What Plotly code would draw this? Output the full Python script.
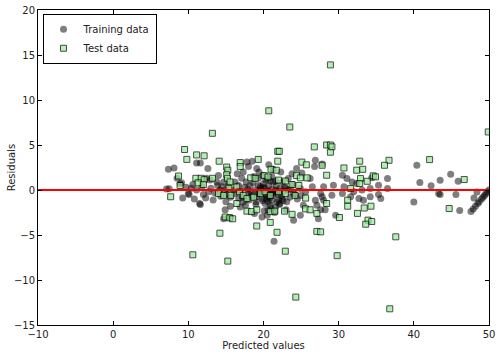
import plotly.graph_objects as go

# Training data (predicted value, residual)
train_x = [7.1, 7.45, 7.35, 8.1, 8.5, 8.9, 9.1, 9.25, 10.0, 10.1, 10.4, 11.1, 11.6, 11.5, 11.6, 11.1, 12.0, 12.6, 12.7, 12.9,
           13.3, 13.8, 13.9, 14.7, 14.45, 14.9, 15.3, 14.2, 15.1, 15.6, 15.0, 15.6, 14.7, 15.6, 14.9,
           9.7, 10.6, 11.8, 12.3, 13.0, 13.5, 14.0, 14.3, 10.8, 12.4,
           17.8, 18.5, 18.0, 17.3, 20.7, 21.3, 19.1, 24.4, 23.8, 25.1, 26.9, 26.8, 18.7, 19.3, 19.9, 20.5, 21.1, 21.3, 22.5, 23.3,
           16.2, 16.7, 17.1, 19.3, 20.0, 20.7, 26.2,
           18.9, 19.6, 20.2, 20.7, 21.1, 21.6, 22.2, 22.7, 23.3,
           19.1, 19.8, 20.5, 21.1, 21.8, 22.5, 20.2, 20.9, 21.6, 22.2,
           16.2, 16.7, 17.3, 18.0, 16.9, 17.6, 19.8, 20.5, 21.4,
           24.0, 24.9, 25.6, 26.5, 24.9, 24.0, 23.1, 26.9, 27.1, 27.3,
           17.5, 18.3, 19.5, 20.3, 21.0, 21.9, 22.8, 18.6, 20.9, 22.0, 19.0, 20.6, 21.5, 23.5, 24.5, 25.3, 23.9, 18.1, 22.3, 16.5,
           20.1, 19.4, 21.7, 23.0,
           17.0, 17.9, 18.4, 19.2, 19.7, 20.4, 20.8, 21.3, 21.8, 22.4, 19.0, 19.9, 20.6, 21.2, 22.1, 18.2, 19.6, 20.3, 21.6, 22.9,
           16.0, 17.2, 23.6, 24.2, 25.0, 20.0, 21.0, 18.8, 22.6, 17.7,
           27.8, 30.5, 31.1, 31.8, 32.4, 30.7, 34.4, 36.5, 28.0, 29.3, 27.6, 27.8, 28.0, 29.1, 30.5, 32.0, 33.1, 34.2, 35.3, 36.5,
           31.6, 32.7, 34.2, 35.3, 35.6, 27.6, 28.2, 29.6, 33.3,
           40.4, 40.8, 42.3, 43.5, 44.9, 45.9, 43.5, 43.3, 45.6, 40.0, 46.1, 48.4, 48.0,
           47.6, 47.9, 48.2, 48.5, 48.7, 49.0, 49.2, 49.4, 49.6, 49.8, 50.0]
train_res = [0.1, 0.15, 2.3, 2.45, 1.3, 0.7, 0.8, -0.9, -0.4, -0.5, 0.2, 3.0, 3.0, -1.5, -1.6, 0.0, -0.5, 2.4, -0.2, 1.1,
             -1.1, 0.9, 0.5, 0.9, 0.35, 0.0, 0.5, 0.0, -0.5, -0.8, -1.3, -1.8, -3.2, -3.05, -2.2,
             0.3, 0.6, 0.4, -0.9, 0.2, -0.3, 1.6, -0.7, -1.0, 1.3,
             3.1, 3.2, 2.6, 2.0, 2.8, 2.3, 2.4, 2.4, 1.8, 1.9, 3.3, 2.6, 1.5, 1.3, 1.6, 1.3, 1.5, 0.9, 0.9, 1.27,
             0.9, 0.5, 1.3, 0.5, 0.7, 0.5, 1.27,
             0.0, 0.16, 0.16, -0.14, 0.09, 0.0, 0.16, -0.14, 0.0,
             -0.76, -0.95, -0.76, -1.13, -1.32, -0.95, -1.5, -1.69, -1.88, -1.5,
             -0.4, -0.95, -1.32, -0.4, -1.9, -1.7, -3.0, -2.8, -5.7,
             -0.4, 0.16, -0.2, 0.35, -2.8, -3.35, -1.3, -1.13, -1.69, -3.2,
             0.3, -0.2, -0.3, -0.5, -0.3, -0.5, 0.4, 0.8, 1.0, -1.1, -1.3, -2.2, -2.5, -0.8, -1.0, -1.7, 0.6, -1.1, 2.0, 1.8,
             -2.3, 2.0, 0.5, -2.2,
             -0.2, 0.1, -0.6, -0.4, -0.1, -1.0, -0.9, -0.6, -0.2, -0.7, -1.6, -1.2, -1.3, -0.4, -1.6, 0.5, 0.4, 1.1, 1.0, 0.2,
             0.0, -0.8, 0.1, -0.5, -0.6, 0.3, -2.0, -2.6, -1.2, 0.9,
             2.9, 1.64, 1.27, 0.9, 0.72, 0.35, 1.35, 1.27, 0.35, 0.53, -0.4, -0.76, -1.13, -0.58, -0.4, -0.2, 0.0, 0.16, 0.53, 0.16,
             -0.76, -0.95, -0.76, -0.5, -0.95, -2.2, -2.2, -2.8, -1.13,
             2.75, 0.83, 0.46, 1.08, 1.75, 0.97, -0.5, -0.4, -0.5, -1.32, -2.28, -0.21, -0.88,
             -2.4, -2.1, -1.8, -1.5, -1.3, -1.0, -0.8, -0.6, -0.4, -0.2, 0.0]

# Test data (predicted value, residual)
test_x = [28.9, 20.7, 23.5, 13.2, 49.9, 10.6, 15.25, 22.9, 29.8, 24.3, 36.8, 37.6,
          9.5, 9.8, 11.1, 12.1, 14.1, 8.7, 8.9, 7.65, 11.0, 11.7, 12.1, 13.2, 11.3, 12.0, 15.1, 15.25, 15.1, 15.2, 15.55, 15.4,
          14.0, 14.7, 15.65, 14.9, 15.5, 15.9, 14.2,
          26.76, 21.9, 22.1, 16.9, 16.9, 19.3, 21.9, 25.1, 25.7, 21.0, 21.7, 18.3, 18.9, 20.1, 20.6, 22.0, 22.9, 24.4, 24.9, 25.8,
          23.8, 24.7, 16.45, 16.8, 17.3, 17.8, 18.7, 19.6, 20.2, 20.9, 22.0, 22.9, 24.2, 25.6, 16.45, 17.8, 18.4, 19.1, 20.9, 21.5,
          22.8, 23.8, 25.6, 26.2, 27.1, 20.9, 19.1, 21.8, 27.1,
          28.4, 28.9, 28.9, 29.1, 27.8, 28.4, 30.7, 32.8, 32.4, 33.2, 36.7, 36.1, 34.6, 34.9, 32.9, 33.8, 31.6, 32.8, 28.4, 31.2,
          31.2, 33.4, 34.3, 32.5, 30.1, 33.9, 34.4, 33.6, 27.6,
          42.1, 46.7, 44.7]
test_res = [13.9, 8.8, 7.0, 6.3, 6.45, -7.2, -7.9, -6.8, -7.3, -11.9, -13.2, -5.2,
            4.5, 3.4, 3.9, 3.8, 3.2, 1.55, 0.5, -0.75, 1.3, 1.3, 1.15, 1.3, 0.8, 0.6, 2.55, 2.2, 1.7, 1.3, 0.9, 0.2,
            -0.4, -0.6, -0.6, -3.0, -3.1, -3.2, -4.8,
            4.79, 4.3, 4.3, 3.05, 2.6, 3.4, 3.2, 3.1, 2.8, 2.3, 2.2, 1.35, 1.3, 1.6, 1.45, 1.1, 1.0, 1.6, 1.35, 1.35,
            0.6, 0.5, 0.35, -0.2, -0.6, -0.95, -0.8, -0.4, -0.2, -0.6, -0.2, -0.4, -0.6, -0.9, -1.5, -2.35, -2.4, -2.2, -2.4, -2.35,
            -2.35, -2.7, -2.1, -2.2, -2.6, -3.6, -4.0, -4.7, -4.6,
            5.0, 5.0, 4.2, 4.8, 2.75, 1.64, 2.45, 3.2, 2.2, 2.3, 3.3, 2.75, 1.57, 1.46, 1.27, 0.97, 0.16, 0.72, -1.5, -1.13,
            -1.8, -2.0, -1.8, -2.6, -3.06, -3.35, -3.5, -3.8, -4.65,
            3.38, 1.16, -2.06]

zero_line_x = [-10, 50]
zero_line_y = [0, 0]

x_ticks = [-10, 0, 10, 20, 30, 40, 50]
y_ticks = [-15, -10, -5, 0, 5, 10, 15, 20]

fig = go.Figure()
fig.add_trace(go.Scatter(
    x=train_x, y=train_res, mode="markers", name="Training data",
    marker=dict(symbol="circle", size=7, color="black", opacity=0.5, line=dict(width=0)),
))
fig.add_trace(go.Scatter(
    x=test_x, y=test_res, mode="markers", name="Test data",
    marker=dict(symbol="square", size=6, color="lightgreen", opacity=0.7,
                line=dict(width=1, color="black")),
))
fig.add_trace(go.Scatter(
    x=zero_line_x, y=zero_line_y, mode="lines", showlegend=False,
    line=dict(color="red", width=2), hoverinfo="skip",
))

axis_common = dict(
    showgrid=False, zeroline=False, showline=True, linecolor="black", linewidth=1,
    mirror="ticks", ticks="inside", ticklen=4, tickcolor="black",
    tickfont=dict(size=10, color="#222"),
)

fig.update_layout(
    width=500, height=354,
    margin=dict(l=38, r=11, t=10, b=29),
    paper_bgcolor="white", plot_bgcolor="white",
    font=dict(family="DejaVu Sans", size=10, color="#222"),
    xaxis=dict(range=[-10, 50], tickvals=x_ticks, automargin=False,
               title=dict(text="Predicted values", font=dict(size=10), standoff=1), **axis_common),
    yaxis=dict(range=[-15, 20], tickvals=y_ticks, automargin=False, **axis_common),
    legend=dict(x=0.01, y=0.988, xanchor="left", yanchor="top",
                bordercolor="black", borderwidth=1, bgcolor="white",
                font=dict(size=10), tracegroupgap=0, itemsizing="trace", itemwidth=30),
    showlegend=True,
    annotations=[dict(text="Residuals", xref="paper", yref="paper", x=-0.058, y=0.5,
                      xanchor="center", yanchor="middle", textangle=-90, showarrow=False,
                      font=dict(size=10, color="#222"))],
)

fig.write_html("out.html")
